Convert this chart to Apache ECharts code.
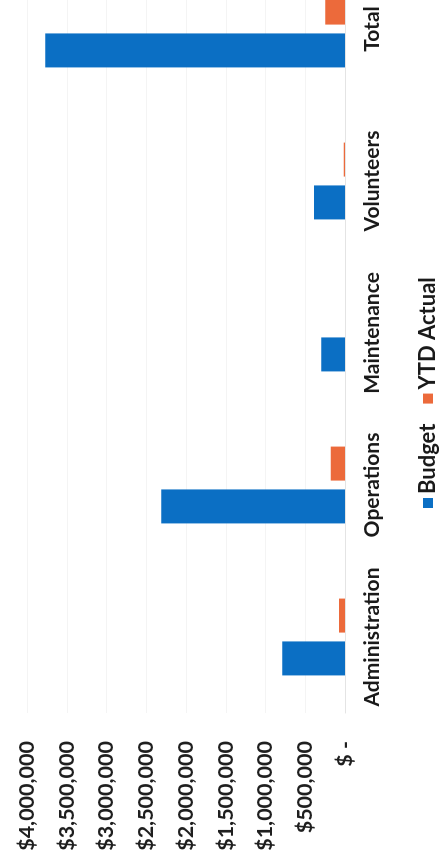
<!DOCTYPE html>
<html>
<head>
<meta charset="utf-8">
<script src="https://cdn.jsdelivr.net/npm/echarts@6/dist/echarts.min.js"></script>
<style>
  html, body { margin: 0; padding: 0; background: #ffffff; overflow: hidden; }
  body { width: 442px; height: 858px; position: relative; }
  /* The column chart is drawn upright in a 910x442 box, then turned a quarter turn anticlockwise;
     its far end runs past the top of the page */
  #chart {
    position: absolute; left: 0; top: 0;
    width: 910px; height: 442px;
    transform-origin: 0 0;
    transform: translate(0px, 858px) rotate(-90deg);
  }
</style>
</head>
<body>
<div id="chart"></div>
<script>
// Departments and budget figures (US dollars)
const categories = ['Administration', 'Operations', 'Maintenance', 'Volunteers', 'Total'];
const budget     = [790000, 2310000, 300000, 390000, 3770000];
const ytdActual  = [75000, 180000, 0, 15000, 250000];
const seriesNames = ['Budget', 'YTD Actual'];
const valueTicks = { min: 0, max: 4000000, step: 500000 };

const FONT = 'Lato, "Open Sans", sans-serif';

// Accounting-style money labels: zero shows as a dash
function money(v) {
  if (v === 0) return '$ -';
  return '$' + v.toLocaleString('en-US');
}

const chart = echarts.init(document.getElementById('chart'), null, { renderer: 'canvas' });
chart.setOption({
  backgroundColor: '#ffffff',
  animation: false,
  color: ['#0b6fc4', '#ec6a3b'],
  grid: { left: 145, width: 760, top: 27, bottom: 97, containLabel: false },
  legend: {
    data: seriesNames,
    left: 345,
    top: 412,
    icon: 'rect',
    itemWidth: 10,
    itemHeight: 10,
    itemGap: 20,
    textStyle: { fontFamily: FONT, fontWeight: 'bold', fontSize: 22, color: '#1a1a1a', padding: [0, 0, 0, -1] }
  },
  xAxis: {
    type: 'category',
    data: categories,
    axisLine: { show: true, lineStyle: { color: '#e4e4e4', width: 1 } },
    axisTick: { show: false },
    axisLabel: {
      interval: 0,
      margin: 17,
      fontFamily: FONT,
      fontWeight: 'bold',
      fontSize: 21,
      color: '#1a1a1a'
    }
  },
  yAxis: {
    type: 'value',
    min: valueTicks.min,
    max: valueTicks.max,
    interval: valueTicks.step,
    axisLine: { show: false },
    axisTick: { show: false },
    splitLine: { show: true, lineStyle: { color: '#f4f4f4', width: 1 } },
    axisLabel: {
      margin: 28,
      fontFamily: FONT,
      fontWeight: 'bold',
      fontSize: 21.5,
      color: '#1f1f1f',
      formatter: money
    }
  },
  series: [
    {
      name: seriesNames[0],
      type: 'bar',
      data: budget,
      barWidth: 34,
      barGap: '26%'
    },
    {
      name: seriesNames[1],
      type: 'bar',
      data: ytdActual,
      barWidth: 34,
      barGap: '26%'
    }
  ]
});
</script>
</body>
</html>
